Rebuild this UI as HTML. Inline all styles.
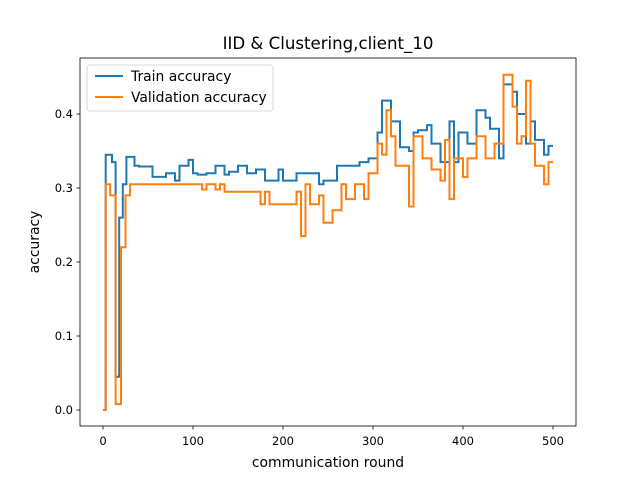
<!DOCTYPE html>
<html><head><meta charset="utf-8"><style>
body{margin:0;background:#fff;}
svg text{font-family:"DejaVu Sans","Liberation Sans",sans-serif;fill:#000;}
</style></head><body>
<svg id="chart" width="640" height="480">
<rect width="640" height="480" fill="#fff"/>
<text x="328" y="49" font-size="16.6" text-anchor="middle">IID &amp; Clustering,client_10</text>
<g id="series"></g>
<rect x="80" y="58" width="496" height="368" fill="none" stroke="#000" stroke-width="0.8"/>
<g id="xt"></g><g id="yt"></g>
<text x="328" y="467" font-size="13.9" text-anchor="middle">communication round</text>
<text transform="translate(39,242) rotate(-90)" font-size="13.9" text-anchor="middle">accuracy</text>
<g>
<rect x="87" y="65" width="186" height="46" rx="3" fill="#fff" stroke="#ccc" stroke-width="0.8"/>
<line x1="95" y1="76" x2="123" y2="76" stroke="#1f77b4" stroke-width="2"/>
<text x="131" y="81" font-size="13.9">Train accuracy</text>
<line x1="95" y1="97" x2="123" y2="97" stroke="#ff7f0e" stroke-width="2"/>
<text x="131" y="102" font-size="13.9">Validation accuracy</text>
</g>
</svg>
<script>
const trainX=[0,3,10,14,18,22,26,35,40,55,70,80,85,95,100,105,115,125,135,140,150,160,170,180,195,200,215,240,245,260,285,295,305,310,320,330,340,345,350,360,365,375,385,390,395,405,415,425,430,440,445,455,460,470,475,480,490,495,500];
const trainY=[0,0.345,0.335,0.045,0.26,0.305,0.342,0.33,0.329,0.315,0.32,0.31,0.33,0.338,0.32,0.318,0.32,0.33,0.318,0.322,0.33,0.32,0.325,0.31,0.325,0.31,0.32,0.305,0.31,0.33,0.335,0.34,0.375,0.418,0.39,0.355,0.35,0.375,0.378,0.385,0.36,0.335,0.39,0.335,0.375,0.36,0.405,0.395,0.38,0.34,0.44,0.43,0.4,0.36,0.39,0.365,0.345,0.357,0.357];
const valX=[0,3,8,14,20,25,30,110,115,125,130,135,175,180,185,215,220,225,230,240,245,255,265,270,280,290,295,305,310,315,320,325,340,345,355,365,375,380,385,390,400,405,415,425,435,445,455,460,465,470,475,480,490,495,500];
const valY=[0,0.305,0.29,0.008,0.22,0.29,0.305,0.298,0.305,0.298,0.305,0.295,0.278,0.295,0.278,0.295,0.235,0.305,0.278,0.29,0.253,0.27,0.305,0.285,0.305,0.285,0.32,0.36,0.345,0.405,0.37,0.33,0.275,0.37,0.34,0.325,0.31,0.365,0.285,0.34,0.315,0.34,0.37,0.34,0.36,0.453,0.41,0.36,0.37,0.445,0.36,0.33,0.305,0.335,0.335];
const xTicks=[0,100,200,300,400,500];
const yTicks=[0,0.1,0.2,0.3,0.4];
const sx=v=>103+v*0.9, sy=v=>410-v*740;
const NS="http://www.w3.org/2000/svg";
function mk(t,a,p){const e=document.createElementNS(NS,t);for(const k in a)e.setAttribute(k,a[k]);p.appendChild(e);return e;}
function path(X,Y){let d="M"+sx(X[0])+","+sy(Y[0]);for(let i=1;i<X.length;i++){d+=" L"+sx(X[i])+","+sy(Y[i-1])+" L"+sx(X[i])+","+sy(Y[i]);}return d;}
const g=document.getElementById("series");
const p1=mk("path",{d:path(trainX,trainY),fill:"none",stroke:"#1f77b4","stroke-width":2},g);


const p2=mk("path",{d:path(valX,valY),fill:"none",stroke:"#ff7f0e","stroke-width":2},g);


const xt=document.getElementById("xt");
xTicks.forEach(v=>{const x=sx(v);
mk("line",{x1:x,x2:x,y1:426,y2:429.5,stroke:"#000","stroke-width":0.8},xt);
const t=mk("text",{x:x,y:445,"font-size":11.5,"text-anchor":"middle"},xt);t.textContent=v;

});
const yt=document.getElementById("yt");
yTicks.forEach(v=>{const y=sy(v);
mk("line",{x1:76.5,x2:80,y1:y,y2:y,stroke:"#000","stroke-width":0.8},yt);
const t=mk("text",{x:73,y:y+4,"font-size":11.5,"text-anchor":"end"},yt);t.textContent=v.toFixed(1);

});
</script>
</body></html>
